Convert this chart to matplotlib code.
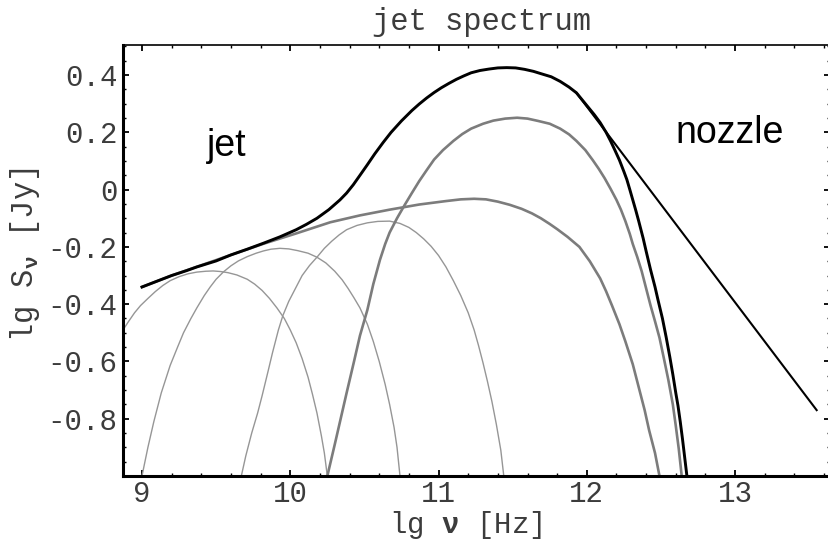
import matplotlib
matplotlib.use("Agg")
import matplotlib.pyplot as plt
from matplotlib.ticker import MultipleLocator, FixedLocator, FixedFormatter

# courier-like for axes text, helvetica-like for the two labels in the plot
plt.rcParams["font.family"] = ["Liberation Mono", "DejaVu Sans"]
plt.rcParams["mathtext.fontset"] = "custom"
plt.rcParams["mathtext.rm"] = "Liberation Mono"
plt.rcParams["mathtext.it"] = "Liberation Mono"
plt.rcParams["mathtext.bf"] = "Liberation Mono:bold"

# thin components
comp1_x = [8.872, 8.91, 8.95, 8.99, 9.04, 9.09, 9.14, 9.19, 9.25, 9.31, 9.37, 9.43,
           9.48, 9.53, 9.58, 9.64, 9.71, 9.76, 9.81, 9.86, 9.91, 9.96, 10.00, 10.04,
           10.08, 10.12, 10.15, 10.18, 10.21, 10.23, 10.25]
comp1_y = [-0.49, -0.46, -0.43, -0.405, -0.38, -0.356, -0.335, -0.318, -0.304, -0.294,
           -0.288, -0.285, -0.284, -0.286, -0.29, -0.298, -0.313, -0.33, -0.352, -0.38,
           -0.413, -0.45, -0.49, -0.535, -0.59, -0.655, -0.715, -0.78, -0.86, -0.92,
           -1.0]

comp2_x = [9.00, 9.04, 9.08, 9.13, 9.19, 9.24, 9.28, 9.33, 9.37, 9.42, 9.46, 9.50,
           9.55, 9.60, 9.65, 9.71, 9.77, 9.82, 9.87, 9.93, 9.99, 10.05, 10.12, 10.18,
           10.24, 10.30, 10.35, 10.39, 10.43, 10.47, 10.52, 10.56, 10.60, 10.64,
           10.67, 10.70, 10.72, 10.74]
comp2_y = [-1.0, -0.90, -0.81, -0.71, -0.614, -0.55, -0.50, -0.45, -0.413, -0.37,
           -0.34, -0.313, -0.287, -0.266, -0.249, -0.234, -0.222, -0.214, -0.208,
           -0.205, -0.207, -0.213, -0.222, -0.236, -0.256, -0.285, -0.315, -0.345,
           -0.378, -0.413, -0.47, -0.53, -0.60, -0.68, -0.75, -0.83, -0.90, -1.0]

comp3_x = [9.67, 9.70, 9.74, 9.78, 9.81, 9.85, 9.88, 9.92, 9.95, 9.99, 10.03, 10.08,
           10.13, 10.18, 10.23, 10.28, 10.33, 10.38, 10.45, 10.52, 10.59, 10.67, 10.74,
           10.80, 10.85, 10.90, 10.95, 11.00, 11.05, 11.10, 11.15, 11.20, 11.24, 11.27,
           11.30, 11.33, 11.36, 11.39, 11.42, 11.44]
comp3_y = [-1.0, -0.93, -0.85, -0.78, -0.72, -0.635, -0.57, -0.49, -0.44, -0.39,
           -0.35, -0.30, -0.265, -0.236, -0.205, -0.18, -0.158, -0.14, -0.125, -0.116,
           -0.111, -0.11, -0.118, -0.132, -0.15, -0.172, -0.198, -0.23, -0.27, -0.318,
           -0.37, -0.43, -0.49, -0.545, -0.605, -0.67, -0.74, -0.82, -0.91, -1.0]

# broad jet component
jet_x = [9.00, 9.20, 9.40, 9.60, 9.82, 10.04, 10.27, 10.47, 10.67, 10.87, 11.05,
         11.15, 11.24, 11.32, 11.40, 11.48, 11.56, 11.63, 11.69, 11.75, 11.80, 11.87,
         11.95, 12.02, 12.09, 12.13, 12.17, 12.22, 12.26, 12.31, 12.35, 12.39, 12.42,
         12.46, 12.49]
jet_y = [-0.34, -0.30, -0.264, -0.228, -0.189, -0.153, -0.114, -0.09, -0.07, -0.052,
         -0.04, -0.034, -0.032, -0.034, -0.042, -0.053, -0.067, -0.083, -0.10, -0.12,
         -0.138, -0.165, -0.20, -0.25, -0.31, -0.355, -0.405, -0.47, -0.53, -0.61,
         -0.69, -0.77, -0.84, -0.92, -1.0]

# high frequency component
hf_x = [10.25, 10.30, 10.34, 10.38, 10.43, 10.47, 10.52, 10.56, 10.605, 10.64, 10.67,
        10.72, 10.77, 10.82, 10.87, 10.92, 10.97, 11.03, 11.10, 11.16, 11.22, 11.30,
        11.37, 11.45, 11.53, 11.60, 11.67, 11.75, 11.82, 11.88, 11.93, 11.99, 12.04,
        12.08, 12.12, 12.16, 12.20, 12.23, 12.26, 12.29, 12.31, 12.34, 12.37, 12.40,
        12.43, 12.46, 12.49, 12.52, 12.55, 12.58, 12.60, 12.62, 12.64]
hf_y = [-1.0, -0.89, -0.80, -0.71, -0.60, -0.51, -0.42, -0.33, -0.245, -0.19, -0.15,
        -0.10, -0.055, -0.012, 0.03, 0.068, 0.105, 0.138, 0.17, 0.194, 0.213, 0.23,
        0.241, 0.248, 0.251, 0.248, 0.24, 0.23, 0.213, 0.193, 0.17, 0.138, 0.103,
        0.073, 0.04, 0.003, -0.036, -0.07, -0.11, -0.155, -0.19, -0.235, -0.285,
        -0.345, -0.405, -0.46, -0.517, -0.59, -0.665, -0.75, -0.825, -0.905, -1.0]

# total spectrum
total_x = [9.00, 9.10, 9.20, 9.30, 9.37, 9.50, 9.60, 9.71, 9.82, 9.93, 10.04, 10.11,
           10.18, 10.26, 10.335, 10.38, 10.425, 10.47, 10.52, 10.57, 10.627, 10.68,
           10.75, 10.82, 10.87, 10.92, 10.97, 11.02, 11.07, 11.12, 11.17, 11.22, 11.28,
           11.34, 11.40, 11.46, 11.52, 11.58, 11.64, 11.69, 11.76, 11.82, 11.88, 11.93,
           11.99, 12.05, 12.09, 12.13, 12.16, 12.19, 12.22, 12.25, 12.27, 12.29, 12.31,
           12.33, 12.35, 12.38, 12.40, 12.43, 12.46, 12.48, 12.51, 12.535, 12.56,
           12.58, 12.60, 12.615, 12.63, 12.645, 12.66, 12.675]
total_y = [-0.34, -0.32, -0.30, -0.283, -0.27, -0.249, -0.228, -0.208, -0.187, -0.165,
           -0.14, -0.121, -0.10, -0.07, -0.036, -0.012, 0.017, 0.05, 0.087, 0.125,
           0.165, 0.20, 0.24, 0.276, 0.299, 0.32, 0.339, 0.356, 0.371, 0.385, 0.397,
           0.408, 0.416, 0.421, 0.425, 0.426, 0.425, 0.42, 0.413, 0.405, 0.394, 0.378,
           0.358, 0.338, 0.30, 0.262, 0.234, 0.20, 0.17, 0.137, 0.103, 0.063, 0.035,
           0.0, -0.036, -0.072, -0.11, -0.17, -0.215, -0.28, -0.34, -0.385, -0.45,
           -0.515, -0.585, -0.645, -0.71, -0.755, -0.81, -0.87, -0.935, -1.0]

# nozzle power law
nozzle_x = [11.93, 13.55]
nozzle_y = [0.338, -0.77]

xticks = [9, 10, 11, 12, 13]
yticks = [-0.8, -0.6, -0.4, -0.2, 0, 0.2, 0.4]
ytick_labels = ["-0.8", "-0.6", "-0.4", "-0.2", "0", "0.2", "0.4"]

W, H = 829, 541
fig = plt.figure(figsize=(W / 100, H / 100), dpi=100)
ax = fig.add_axes([123 / W, 65 / H, 707 / W, 431 / H])

thin = dict(color="#969696", lw=1.0)
ax.plot(comp1_x, comp1_y, **thin)
ax.plot(comp2_x, comp2_y, **thin)
ax.plot(comp3_x, comp3_y, **thin)
ax.plot(jet_x, jet_y, color="#7c7c7c", lw=1.9)
ax.plot(hf_x, hf_y, color="#7c7c7c", lw=1.9)
ax.plot(nozzle_x, nozzle_y, color="black", lw=1.5)
ax.plot(total_x, total_y, color="black", lw=2.1)

ax.set_xlim(8.872, 13.64)
ax.set_ylim(-1.0, 0.505)

ax.xaxis.set_major_locator(FixedLocator(xticks))
ax.xaxis.set_minor_locator(MultipleLocator(0.2))
ax.yaxis.set_major_locator(FixedLocator(yticks))
ax.yaxis.set_major_formatter(FixedFormatter(ytick_labels))
ax.yaxis.set_minor_locator(MultipleLocator(0.05))
ax.tick_params(which="both", direction="in", top=True, right=True, labelsize=21,
               colors="black")
ax.tick_params(which="major", length=4, width=1.3)
ax.tick_params(which="minor", length=2.5, width=1.0)
ax.tick_params(axis="x", pad=3)
ax.tick_params(axis="y", pad=4)
for lab in ax.get_xticklabels() + ax.get_yticklabels():
    lab.set_color("#3c3c3c")

ax.spines["left"].set_linewidth(2.2)
ax.spines["bottom"].set_linewidth(2.2)
ax.spines["top"].set_linewidth(1.2)
ax.spines["right"].set_visible(False)

# x label sits on a baseline about 57 px under the frame
ax.set_xlabel(r"lg $\mathbf{\nu}$ [Hz]", fontsize=21, color="#3c3c3c")
ax.xaxis.label.set_verticalalignment("baseline")
ax.xaxis.set_label_coords((466 - 123) / 707, -(533 - 476) / 431)
ax.set_ylabel(r"lg $\mathrm{S}_{\mathbf{\nu}}$ [Jy]", fontsize=22, color="#3c3c3c")
ax.yaxis.label.set_verticalalignment("center")
ax.yaxis.set_label_coords((25 - 123) / 707, (541 - 255 - 65) / 431)

fig.text(482 / W, 1 - 30 / H, "jet spectrum", ha="center", va="baseline",
         fontsize=22, color="#3c3c3c")

ax.text(9.44, 0.119, "jet", family="Liberation Sans", fontsize=27, va="baseline")
ax.text(12.60, 0.164, "nozzle", family="Liberation Sans", fontsize=27, va="baseline")

plt.savefig("out.png", dpi=100)
